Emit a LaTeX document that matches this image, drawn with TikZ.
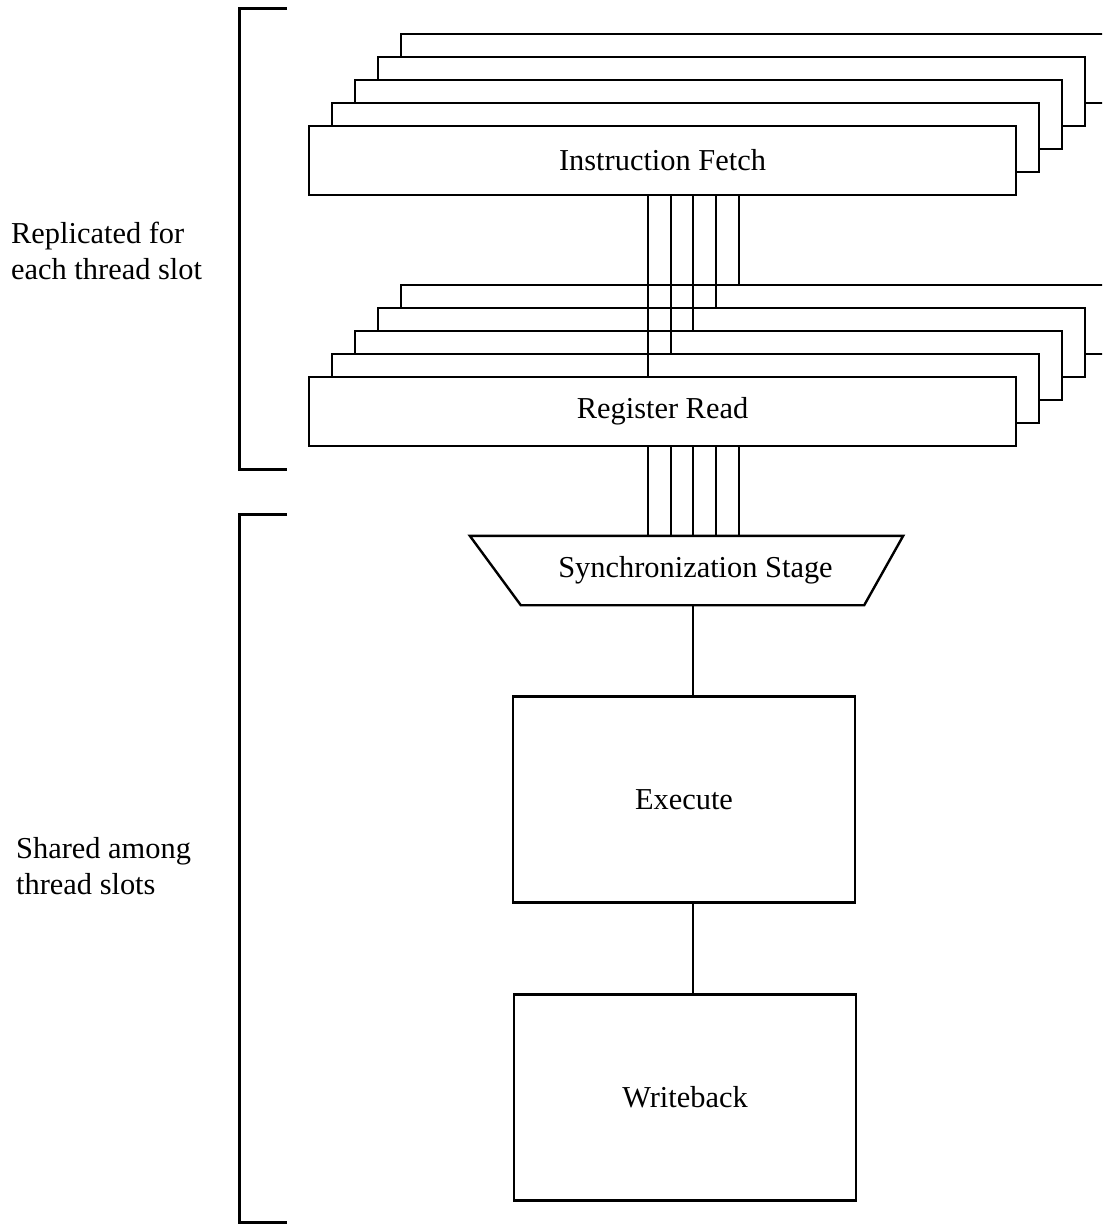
\documentclass[tikz,border=0pt]{standalone}
\usepackage{fontspec}
\setmainfont{Liberation Serif}

\begin{document}
\begin{tikzpicture}[x=0.5pt,y=-0.5pt,line width=1.2pt,
    font=\fontsize{15.2}{18}\selectfont,
    stagebox/.style={draw,fill=white,inner sep=0pt,minimum width=353.5pt,minimum height=34.5pt},
    unitbox/.style={draw,inner sep=0pt,minimum width=171pt,minimum height=103pt},
    note/.style={align=left,anchor=west,inner sep=0pt}]
  \clip (0,0) rectangle (1102,1224);

  % brackets on the left
  \draw[line width=1.5pt] (287,9) -| (239,469) -- (287,469);
  \draw[line width=1.5pt] (287,514) -| (239,1222) -- (287,1222);
  \node[note] (repl) at (10,251) {Replicated for\\each thread slot};
  \node[note] (shared) at (15,866) {Shared among\\thread slots};

  % one copy per thread slot, back to front
  \foreach \k in {4,3,2,1} {
    \node[stagebox] (if\k) at ({662.5+23*\k},{160.5-23*\k}) {};
    \node[stagebox] (rr\k) at ({662.5+23*\k},{411.5-23*\k}) {};
  }
  \node[stagebox] (if0) at (662.5,160.5) {Instruction Fetch};
  \node[stagebox] (rr0) at (662.5,411.5) {Register Read};

  \foreach \j/\x in {0/648,1/671,2/693,3/716,4/739}
    \draw (\x,0 |- if0.south) -- (\x,0 |- rr\j.north);

  % shared part
  \node[inner sep=0pt,minimum width=215.5pt,minimum height=33.5pt] (sync) at (686.5,570.5) {\hspace{9pt}Synchronization Stage};
  \draw (sync.north west) -- (sync.north east) -- ([xshift=-19.5pt]sync.south east)
    -- ([xshift=25.5pt]sync.south west) -- cycle;
  \foreach \x in {648,671,693,716,739}
    \draw (\x,0 |- rr0.south) -- (\x,0 |- sync.north);

  \node[unitbox] (exec) at (684,799.5) {Execute};
  \node[unitbox] (wb) at (685,1097.5) {Writeback};
  \draw (693,0 |- sync.south) -- (693,0 |- exec.north);
  \draw (693,0 |- exec.south) -- (693,0 |- wb.north);
\end{tikzpicture}
\end{document}
